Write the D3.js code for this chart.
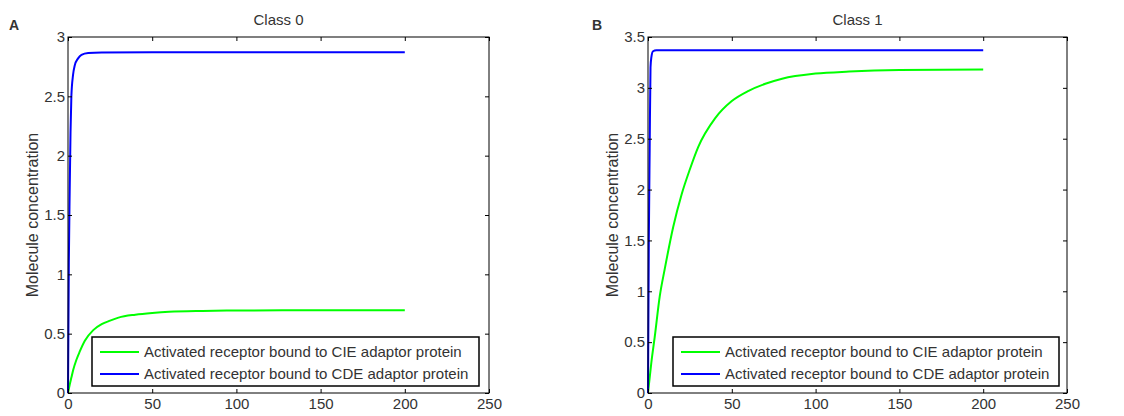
<!DOCTYPE html>
<html>
<head>
<meta charset="utf-8">
<script src="https://cdn.jsdelivr.net/npm/d3@7"></script>
<style>
  body { margin: 0; background: #fff; }
  text { font-family: "Liberation Sans", Arial, sans-serif; fill: #333; }
</style>
</head>
<body>
<script>
var W = 1124, H = 416;

// series (time, concentration)
var timeA = [0, 1, 2, 3, 5, 7, 10, 15, 20, 25, 30, 40, 50, 60, 80, 100, 150, 200];
var cieA  = [0, 0.07, 0.13, 0.19, 0.28, 0.35, 0.44, 0.53, 0.58, 0.61, 0.635, 0.66, 0.675, 0.685, 0.692, 0.695, 0.697, 0.698];
var timeA2 = [0, 0.5, 1, 1.5, 2, 3, 4, 6, 8, 12, 20, 50, 100, 200];
var cdeA   = [0, 1.1, 1.7, 2.2, 2.5, 2.68, 2.76, 2.82, 2.85, 2.865, 2.87, 2.872, 2.872, 2.872];

var timeB = [0, 2, 4, 7, 10, 15, 20, 25, 30, 40, 50, 60, 70, 80, 100, 120, 150, 200];
var cieB  = [0, 0.3, 0.55, 0.95, 1.22, 1.63, 1.95, 2.2, 2.42, 2.7, 2.87, 2.97, 3.04, 3.09, 3.14, 3.16, 3.175, 3.18];
var timeB2 = [0, 0.5, 1, 1.5, 2, 3, 5, 20, 100, 200];
var cdeB   = [0, 1.5, 2.4, 3.2, 3.3, 3.36, 3.37, 3.37, 3.37, 3.37];

var xTicks  = [0, 50, 100, 150, 200, 250];
var yTicksA = [0, 0.5, 1, 1.5, 2, 2.5, 3];
var yTicksB = [0, 0.5, 1, 1.5, 2, 2.5, 3, 3.5];

var legendLabels = ["Activated receptor bound to CIE adaptor protein",
                    "Activated receptor bound to CDE adaptor protein"];
var colors = ["#00ff00", "#0000ff"];

var svg = d3.select("body").append("svg")
  .attr("width", W)
  .attr("height", H);

function zip(t, v) {
  return t.map(function(d, i) { return [d, v[i]]; });
}

function panel(o) {
  var g = svg.append("g");
  var x = d3.scaleLinear().domain([0, 250]).range([o.left, o.right]);
  var y = d3.scaleLinear().domain([0, o.ymax]).range([o.bottom, o.top]);

  var line = d3.line()
    .x(function(d) { return x(d[0]); })
    .y(function(d) { return y(d[1]); })
    .curve(d3.curveMonotoneX);

  // series
  o.series.forEach(function(s, i) {
    g.append("path")
      .datum(s)
      .attr("fill", "none")
      .attr("stroke", colors[i])
      .attr("stroke-width", 2)
      .attr("d", line);
  });

  // axes: ticks inside on all four sides
  var fmt = d3.format("");
  g.append("g").attr("transform", "translate(0," + o.bottom + ")")
    .call(d3.axisBottom(x).tickValues(xTicks).tickSizeInner(-4).tickSizeOuter(0).tickPadding(5).tickFormat(fmt));
  g.append("g").attr("transform", "translate(0," + o.top + ")")
    .call(d3.axisTop(x).tickValues(xTicks).tickSizeInner(-4).tickSizeOuter(0).tickFormat(""));
  g.append("g").attr("transform", "translate(" + o.left + ",0)")
    .call(d3.axisLeft(y).tickValues(o.yTicks).tickSizeInner(-4).tickSizeOuter(0).tickPadding(3).tickFormat(fmt));
  g.append("g").attr("transform", "translate(" + o.right + ",0)")
    .call(d3.axisRight(y).tickValues(o.yTicks).tickSizeInner(-4).tickSizeOuter(0).tickFormat(""));

  g.selectAll(".domain").remove();
  g.selectAll(".tick line").attr("stroke", "#000");
  g.selectAll(".tick text").style("font-size", "15px").attr("fill", "#333")
    .style("font-family", "'Liberation Sans', Arial, sans-serif");

  g.append("rect")
    .attr("x", o.left).attr("y", o.top)
    .attr("width", o.right - o.left).attr("height", o.bottom - o.top)
    .attr("fill", "none").attr("stroke", "#000").attr("stroke-width", 1);

  // title, panel letter, y label
  g.append("text")
    .attr("x", (o.left + o.right) / 2).attr("y", 25)
    .attr("text-anchor", "middle").style("font-size", "15px")
    .text(o.title);
  g.append("text")
    .attr("x", o.letterX).attr("y", 30)
    .style("font-size", "14px").style("font-weight", "bold").attr("fill", "#000")
    .text(o.letter);
  g.append("text")
    .attr("transform", "translate(" + (o.left - 30) + "," + ((o.top + o.bottom) / 2) + ") rotate(-90)")
    .attr("text-anchor", "middle").style("font-size", "16px")
    .text("Molecule concentration");

  // legend
  var lg = g.append("g");
  lg.append("rect")
    .attr("x", o.legX).attr("y", 337)
    .attr("width", o.legW).attr("height", 49)
    .attr("fill", "#fff").attr("stroke", "#000").attr("stroke-width", 1.5);
  legendLabels.forEach(function(lab, i) {
    var yy = 352 + i * 22;
    lg.append("line")
      .attr("x1", o.legX + 8).attr("x2", o.legX + 47)
      .attr("y1", yy).attr("y2", yy)
      .attr("stroke", colors[i]).attr("stroke-width", 2);
    lg.append("text")
      .attr("x", o.legX + 52).attr("y", yy + 5)
      .style("font-size", "15px")
      .text(lab);
  });
}

panel({
  left: 68, right: 489, top: 37, bottom: 393, ymax: 3,
  yTicks: yTicksA, title: "Class 0", letter: "A", letterX: 9,
  legX: 92, legW: 387,
  series: [zip(timeA, cieA), zip(timeA2, cdeA)]
});

panel({
  left: 648, right: 1067, top: 37, bottom: 393, ymax: 3.5,
  yTicks: yTicksB, title: "Class 1", letter: "B", letterX: 592,
  legX: 673, legW: 386,
  series: [zip(timeB, cieB), zip(timeB2, cdeB)]
});
</script>
</body>
</html>
